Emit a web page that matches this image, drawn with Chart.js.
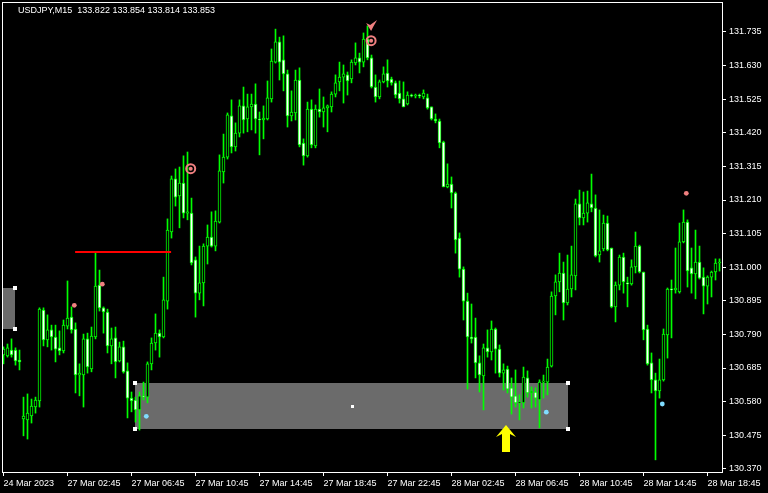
<!DOCTYPE html>
<html>
<head>
<meta charset="utf-8">
<script src="https://cdn.jsdelivr.net/npm/chart.js@4/dist/chart.umd.min.js"></script>
<style>
  html, body { margin: 0; padding: 0; background: #000; }
  #chart { display: block; }
</style>
</head>
<body>
<canvas id="chart" width="768" height="493"></canvas>
<script>
// USDJPY M15 - candles
const open = [
  130.726,130.723,130.741,130.741,130.710,130.526,130.523,130.535,130.563,130.582,
  130.866,130.773,130.804,130.782,130.748,130.738,130.816,130.844,130.807,130.663,
  130.663,130.776,130.682,130.782,130.944,130.873,130.860,130.754,130.779,130.707,
  130.751,130.676,130.591,130.585,130.554,130.598,130.594,130.698,130.763,130.794,
  130.782,130.894,131.110,131.276,131.223,131.263,131.169,131.169,131.023,130.919,
  130.951,131.066,131.094,131.066,131.141,131.298,131.344,131.473,131.376,131.419,
  131.504,131.463,131.501,131.510,131.463,131.460,131.463,131.526,131.641,131.704,
  131.648,131.604,131.473,131.482,131.585,131.388,131.348,131.494,131.379,131.494,
  131.485,131.498,131.501,131.541,131.579,131.594,131.601,131.588,131.638,131.654,
  131.641,131.713,131.654,131.563,131.532,131.579,131.607,131.588,131.576,131.544,
  131.526,131.510,131.538,131.535,131.538,131.532,131.529,131.501,131.463,131.457,
  131.391,131.251,131.260,131.232,131.091,130.994,130.894,130.782,130.782,130.701,
  130.660,130.748,130.735,130.807,130.744,130.669,130.682,130.623,130.598,130.576,
  130.576,130.654,130.607,130.610,130.585,130.641,130.641,130.691,130.910,130.954,
  130.982,130.888,130.932,130.973,131.198,131.154,131.169,131.198,131.185,131.038,
  131.057,131.138,131.060,130.876,130.944,131.032,130.951,130.948,131.001,131.066,
  130.985,130.807,130.701,130.648,130.613,130.648,130.788,130.932,130.929,130.923,
  131.079,131.141,130.998,130.979,131.016,130.969,130.941,130.969,130.985,131.013
];
const high = [
  130.751,130.760,130.776,130.748,130.741,130.594,130.604,130.588,130.594,130.873,
  130.873,130.851,130.819,130.819,130.801,130.835,130.957,130.876,130.826,130.698,
  130.791,130.794,130.813,131.044,130.991,130.876,130.869,130.810,130.813,130.766,
  130.769,130.701,130.610,130.594,130.610,130.641,130.704,130.779,130.854,130.804,
  130.969,131.151,131.285,131.307,131.313,131.348,131.360,131.216,131.032,131.066,
  131.073,131.132,131.173,131.176,131.351,131.416,131.482,131.523,131.451,131.523,
  131.563,131.541,131.541,131.573,131.485,131.504,131.582,131.682,131.744,131.719,
  131.723,131.616,131.551,131.616,131.623,131.401,131.516,131.523,131.507,131.557,
  131.532,131.507,131.548,131.601,131.641,131.632,131.610,131.648,131.701,131.669,
  131.732,131.754,131.663,131.601,131.585,131.626,131.648,131.594,131.582,131.582,
  131.579,131.548,131.541,131.541,131.541,131.554,131.541,131.501,131.479,131.463,
  131.394,131.323,131.282,131.235,131.107,131.001,130.919,130.885,130.841,130.723,
  130.760,130.804,130.832,130.810,130.757,130.698,130.691,130.654,130.679,130.601,
  130.688,130.676,130.626,130.623,130.648,130.663,130.713,130.923,130.976,131.044,
  131.016,131.038,131.066,131.213,131.241,131.235,131.238,131.291,131.226,131.179,
  131.163,131.160,131.060,130.954,131.038,131.044,130.969,131.023,131.110,131.069,
  130.985,130.819,130.732,130.669,130.713,130.807,130.935,130.960,131.060,131.138,
  131.179,131.148,131.060,131.116,131.066,130.998,130.973,130.988,131.026,131.026
];
const low = [
  130.698,130.719,130.719,130.694,130.679,130.473,130.463,130.513,130.544,130.563,
  130.754,130.751,130.741,130.704,130.726,130.732,130.807,130.794,130.607,130.598,
  130.563,130.669,130.673,130.776,130.863,130.794,130.732,130.698,130.654,130.704,
  130.669,130.529,130.548,130.516,130.491,130.585,130.576,130.679,130.741,130.719,
  130.779,130.869,131.091,131.191,131.123,131.154,131.148,131.007,130.844,130.898,
  130.879,131.010,131.063,131.051,131.138,131.263,131.338,131.357,131.363,131.407,
  131.419,131.423,131.429,131.419,131.351,131.401,131.460,131.516,131.638,131.585,
  131.551,131.438,131.457,131.460,131.376,131.319,131.344,131.373,131.373,131.469,
  131.438,131.423,131.485,131.532,131.551,131.513,131.538,131.576,131.632,131.607,
  131.626,131.648,131.560,131.516,131.526,131.576,131.563,131.569,131.529,131.513,
  131.501,131.507,131.532,131.529,131.529,131.526,131.494,131.460,131.451,131.373,
  131.251,131.248,131.185,131.044,130.969,130.835,130.619,130.763,130.654,130.610,
  130.554,130.719,130.710,130.669,130.657,130.616,130.607,130.541,130.563,130.523,
  130.560,130.594,130.560,130.563,130.498,130.591,130.601,130.688,130.851,130.923,
  130.835,130.882,130.907,130.929,131.132,131.132,131.141,131.173,131.032,131.016,
  131.051,131.051,130.873,130.829,130.929,130.919,130.876,130.944,130.982,130.982,
  130.773,130.694,130.607,130.398,130.591,130.644,130.716,130.779,130.919,130.919,
  131.076,130.938,130.919,130.901,130.963,130.854,130.885,130.907,130.960,130.988
];
const close = [
  130.744,130.748,130.726,130.707,130.704,130.535,130.544,130.566,130.585,130.869,
  130.773,130.804,130.782,130.744,130.738,130.819,130.841,130.804,130.663,130.669,
  130.776,130.688,130.785,130.941,130.873,130.860,130.754,130.776,130.704,130.751,
  130.673,130.591,130.582,130.554,130.598,130.594,130.698,130.763,130.794,130.782,
  130.898,131.116,131.276,131.219,131.263,131.169,131.173,131.013,130.919,130.951,
  131.066,131.094,131.066,131.144,131.301,131.344,131.476,131.376,131.419,131.504,
  131.460,131.501,131.510,131.463,131.460,131.466,131.529,131.644,131.704,131.641,
  131.604,131.473,131.485,131.585,131.382,131.348,131.494,131.382,131.494,131.485,
  131.498,131.504,131.541,131.576,131.594,131.604,131.582,131.641,131.654,131.641,
  131.713,131.654,131.563,131.532,131.579,131.604,131.582,131.576,131.538,131.526,
  131.501,131.538,131.535,131.538,131.535,131.544,131.498,131.463,131.457,131.388,
  131.251,131.260,131.232,131.085,130.994,130.894,130.782,130.776,130.701,130.663,
  130.748,130.735,130.807,130.744,130.669,130.679,130.619,130.594,130.576,130.579,
  130.657,130.607,130.613,130.591,130.641,130.644,130.688,130.910,130.954,130.982,
  130.888,130.932,130.976,131.198,131.154,131.169,131.201,131.185,131.035,131.051,
  131.138,131.054,130.876,130.944,131.032,130.954,130.948,131.001,131.066,130.985,
  130.804,130.698,130.648,130.613,130.648,130.791,130.932,130.929,130.935,131.079,
  131.141,130.988,130.979,131.016,130.966,130.941,130.969,130.985,131.013,131.016
];

// axis ticks
const xTickIndex = [0, 16, 32, 48, 64, 80, 96, 112, 128, 144, 160, 176];
const xTickLabels = ["24 Mar 2023", "27 Mar 02:45", "27 Mar 06:45", "27 Mar 10:45", "27 Mar 14:45",
  "27 Mar 18:45", "27 Mar 22:45", "28 Mar 02:45", "28 Mar 06:45", "28 Mar 10:45", "28 Mar 14:45", "28 Mar 18:45"];
const yTickLabels = ["131.735", "131.630", "131.525", "131.420", "131.315", "131.210", "131.105",
  "131.000", "130.895", "130.790", "130.685", "130.580", "130.475", "130.370"];

// chart objects (bar index / price)
const boxStart = [-5, 32.95];
const boxEnd = [2.95, 141.1];
const boxTop = [130.935, 130.638];
const boxBottom = [130.807, 130.494];
const hlineX = [17.9, 41.9];
const hlineY = [131.0475, 131.0475];
const redDotX = [17.7, 24.7, 170.7];
const redDotY = [130.881, 130.947, 131.231];
const blueDotX = [35.7, 135.7, 164.7];
const blueDotY = [130.534, 130.547, 130.5725];
const ringX = [46.8, 91.9];
const ringY = [131.308, 131.708];
const sellArrow = [91.9, 131.751];
const buyArrow = [125.6, 130.507];

const headerText = "USDJPY,M15  133.822 133.854 133.814 133.853";

const bars = open.map((_, i) => i);
const wicks = bars.map((i) => ({ x: i, y: [low[i], high[i]] }));
const bodies = bars.map((i) => ({ x: i, y: [open[i], close[i]] }));
const bodyFill = bars.map((i) => (close[i] < open[i] ? "#ffffff" : "#000000"));
const pts = (xs, ys) => xs.map((v, k) => ({ x: v, y: ys[k] }));

const GREEN = "#00ff00";
const SALMON = "#f08080";
const FONT = "'Liberation Sans', Arial, sans-serif";

Chart.defaults.font.family = FONT;
Chart.defaults.font.size = 9;
Chart.defaults.color = "#ffffff";

// Chart.js reserves room for half labels at the ends; MT4 does not
const noPadding = (scale) => {
  scale.paddingLeft = 0;
  scale.paddingRight = 0;
  scale.paddingTop = 0;
  scale.paddingBottom = 0;
};

const mt4Objects = {
  id: "mt4Objects",
  beforeDatasetsDraw(chart) {
    const { ctx, chartArea: a, scales } = chart;
    const x = scales.x, y = scales.y;
    ctx.save();
    ctx.beginPath();
    ctx.rect(a.left, a.top, a.right - a.left, a.bottom - a.top);
    ctx.clip();
    ctx.fillStyle = "#6b6b6b";
    for (let k = 0; k < boxStart.length; k++) {
      const x0 = Math.round(x.getPixelForValue(boxStart[k]));
      const x1 = Math.round(x.getPixelForValue(boxEnd[k]));
      const y0 = Math.round(y.getPixelForValue(boxTop[k]));
      const y1 = Math.round(y.getPixelForValue(boxBottom[k]));
      ctx.fillRect(x0, y0, x1 - x0, y1 - y0);
    }
    ctx.restore();
  },
  afterDatasetsDraw(chart) {
    const { ctx, chartArea: a, scales } = chart;
    const x = scales.x, y = scales.y;
    ctx.save();
    ctx.beginPath();
    ctx.rect(a.left, a.top, a.right - a.left, a.bottom - a.top);
    ctx.clip();

    // box handles
    ctx.fillStyle = "#ffffff";
    for (let k = 0; k < boxStart.length; k++) {
      const x0 = Math.round(x.getPixelForValue(boxStart[k]));
      const x1 = Math.round(x.getPixelForValue(boxEnd[k]));
      const y0 = Math.round(y.getPixelForValue(boxTop[k]));
      const y1 = Math.round(y.getPixelForValue(boxBottom[k]));
      [[x0, y0], [x0, y1], [x1, y0], [x1, y1]].forEach(([hx, hy]) => {
        ctx.fillRect(hx - 2, hy - 2, 4, 4);
      });
      ctx.fillRect(Math.round((x0 + x1) / 2) - 1, Math.round((y0 + y1) / 2) - 1, 3, 3);
    }

    // sell arrow (small, above the top)
    const sx = x.getPixelForValue(sellArrow[0]);
    const sy = y.getPixelForValue(sellArrow[1]);
    ctx.fillStyle = SALMON;
    ctx.beginPath();
    ctx.moveTo(sx, sy + 4);
    ctx.lineTo(sx - 5, sy - 4);
    ctx.lineTo(sx - 1, sy - 2);
    ctx.lineTo(sx + 6, sy - 7);
    ctx.lineTo(sx + 2, sy);
    ctx.closePath();
    ctx.fill();

    // buy arrow (yellow)
    const bx = Math.round(x.getPixelForValue(buyArrow[0]));
    const by = Math.round(y.getPixelForValue(buyArrow[1]));
    ctx.fillStyle = "#ffff00";
    ctx.beginPath();
    ctx.moveTo(bx, by);
    ctx.lineTo(bx + 10, by + 12);
    ctx.lineTo(bx + 4, by + 9);
    ctx.lineTo(bx + 4, by + 27);
    ctx.lineTo(bx - 4, by + 27);
    ctx.lineTo(bx - 4, by + 9);
    ctx.lineTo(bx - 10, by + 12);
    ctx.closePath();
    ctx.fill();
    ctx.restore();
  },
  afterDraw(chart) {
    const { ctx, chartArea: a } = chart;
    ctx.save();
    ctx.strokeStyle = "#ffffff";
    ctx.lineWidth = 1;
    ctx.strokeRect(a.left + 0.5, a.top + 0.5, a.right - a.left, a.bottom - a.top);
    ctx.fillStyle = "#ffffff";
    ctx.font = "9px " + FONT;
    ctx.textBaseline = "top";
    ctx.fillText(headerText, 18, 6);
    ctx.restore();
  },
};

new Chart(document.getElementById("chart"), {
  type: "bar",
  data: {
    datasets: [
      {
        type: "line",
        data: pts(hlineX, hlineY),
        borderColor: "#ff0000",
        borderWidth: 2,
        pointRadius: 0,
        order: 0,
      },
      {
        type: "scatter",
        data: pts(redDotX, redDotY),
        backgroundColor: SALMON,
        borderWidth: 0,
        pointRadius: 2.4,
        order: 1,
      },
      {
        type: "scatter",
        data: pts(blueDotX, blueDotY),
        backgroundColor: "#80dcff",
        borderWidth: 0,
        pointRadius: 2.4,
        order: 1,
      },
      {
        type: "scatter",
        data: pts(ringX, ringY),
        backgroundColor: "rgba(0,0,0,0)",
        borderColor: SALMON,
        borderWidth: 2,
        pointRadius: 4.5,
        order: 1,
      },
      {
        type: "scatter",
        data: pts(ringX, ringY),
        backgroundColor: SALMON,
        borderWidth: 0,
        pointRadius: 2,
        order: 1,
      },
      {
        data: bodies,
        backgroundColor: bodyFill,
        borderColor: GREEN,
        borderWidth: 1,
        borderSkipped: false,
        barThickness: 3,
        minBarLength: 1,
        grouped: false,
        order: 3,
      },
      {
        data: wicks,
        backgroundColor: GREEN,
        borderWidth: 0,
        barThickness: 1,
        grouped: false,
        order: 4,
      },
    ],
  },
  options: {
    responsive: false,
    animation: false,
    devicePixelRatio: 1,
    layout: { autoPadding: false, padding: { left: 2, top: 2, right: 0, bottom: 0 } },
    plugins: { legend: { display: false }, tooltip: { enabled: false } },
    scales: {
      x: {
        type: "linear",
        offset: false,
        min: -0.375,
        max: 179.625,
        border: { display: false },
        grid: { drawOnChartArea: false, drawTicks: true, tickLength: 4, color: "#ffffff", offset: false },
        afterBuildTicks: (scale) => { scale.ticks = xTickIndex.map((v) => ({ value: v })); },
        afterFit: (scale) => { scale.height = 21; noPadding(scale); },
        ticks: {
          autoSkip: false,
          maxRotation: 0,
          align: "start",
          padding: 2,
          color: "#ffffff",
          callback: (v) => xTickLabels[xTickIndex.indexOf(v)],
        },
      },
      y: {
        type: "linear",
        position: "right",
        min: 130.36,
        max: 131.82875,
        border: { display: false },
        grid: { drawOnChartArea: false, drawTicks: true, tickLength: 4, color: "#ffffff" },
        afterBuildTicks: (scale) => { scale.ticks = yTickLabels.map((t) => ({ value: parseFloat(t) })); },
        afterFit: (scale) => { scale.width = 46; noPadding(scale); },
        ticks: {
          padding: 3,
          color: "#ffffff",
          callback: (v) => v.toFixed(3),
        },
      },
    },
  },
  plugins: [mt4Objects],
});
</script>
</body>
</html>
